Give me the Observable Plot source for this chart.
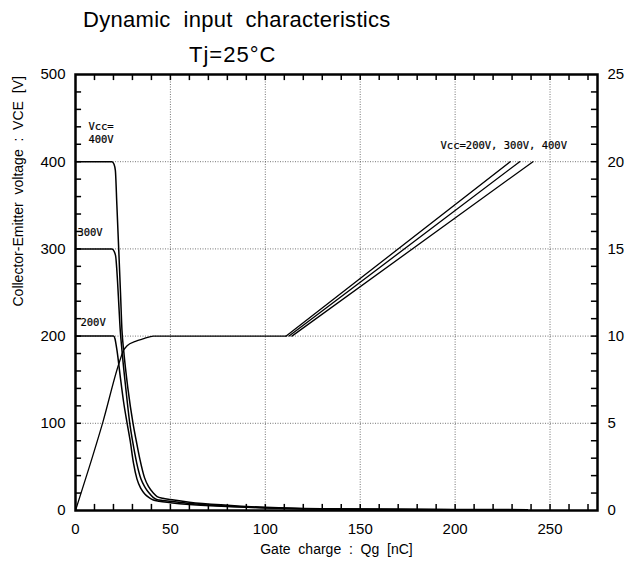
<!DOCTYPE html>
<html>
<head>
<meta charset="utf-8">
<script src="https://cdn.jsdelivr.net/npm/d3@7"></script>
<script src="https://cdn.jsdelivr.net/npm/@observablehq/plot@0.6"></script>
<style>
  body { margin: 0; background: #fff; font-family: "Liberation Sans", Arial, sans-serif; }
  #page { position: relative; width: 628px; height: 566px; overflow: hidden; }
  #head { position: relative; width: 628px; height: 66px; }
  .t { position: absolute; white-space: pre; font-size: 22px; line-height: 22px; color: #000; }
  svg text { white-space: pre; }
</style>
</head>
<body>
<div id="page">
  <div id="head">
    <div class="t" style="left:83px; top:9px; letter-spacing:0.3px;">Dynamic  input  characteristics</div>
    <div class="t" style="left:189px; top:44px; letter-spacing:1px;">Tj=25°C</div>
  </div>
  <div id="chart"></div>
</div>
<script>
// ---- data (Qg in nC, VCE in V, VGE in V) ----
const vce200 = [[0,200],[20,200],[20.8,197],[21.4,190],[21.9,183],[23.5,155],[25.3,125],[27.2,100],[28.8,80],[30.5,55],[32.4,36],[34.5,25],[36.5,19],[38.6,15],[41,12],[44,10.5],[50,9],[60,7],[80,4.5],[100,3],[120,2],[150,1.5],[200,1],[238,1]];
const vce300 = [[0,300],[19.2,300],[20.4,297],[21.2,291],[21.8,275],[22.6,245],[23.6,206],[24.5,183],[26.5,140],[28.6,100],[30.2,78],[32.2,55],[34.5,36],[36.8,26],[38.8,20],[40.9,15],[43,12.5],[46,11.5],[50,10.5],[60,8],[80,5],[100,3.2],[120,2.1],[150,1.5],[200,1],[238,1]];
const vce400 = [[0,400],[19.2,400],[20.3,397],[21,390],[21.8,350],[22.8,298],[23.7,250],[24.5,206],[25.4,183],[27.6,140],[30.3,100],[32,80],[34,58],[36.3,38],[38.6,27],[41,20],[43,16],[46,14],[50,12.5],[60,9.5],[80,6],[100,3.6],[120,2.2],[150,1.6],[200,1.1],[238,1]];
const vgeCommon = [[0,0],[7,2.4],[14.5,5.1],[22.8,8.4],[25.4,9.2],[27.2,9.45],[31.6,9.7],[36,9.85],[41,10],[111,10]];
const vgeRise200 = [[111,10],[229,20]];
const vgeRise300 = [[112.5,10],[234,20]];
const vgeRise400 = [[114,10],[241,20]];

const xDomain = [0, 275];
const yDomain = [0, 500];
const xTickLabels = [0, 50, 100, 150, 200, 250];
const yTickLabels = [0, 100, 200, 300, 400, 500];
const vgeTickLabels = [0, 5, 10, 15, 20, 25];
const xMinor = [10,20,30,40,50,60,70,80,90,100,110,120,130,140,150,160,170,180,190,200,210,220,230,240,250,260,270];
const yMinor = [20,40,60,80,100,120,140,160,180,200,220,240,260,280,300,320,340,360,380,400,420,440,460,480];

const noteText = ["Vcc=", "400V", "300V", "200V", "Vcc=200V, 300V, 400V"];
const noteQg   = [6.8, 6.8, 1, 2.6, 192.3];
const noteV    = [440, 425, 319, 216, 419];

const xTitle = "Gate  charge  :  Qg  [nC]";
const yTitle = "Collector-Emitter  voltage  :  VCE  [V]";

// ---- build rows ----
const rows = (pairs, key) => pairs.map(([q, v]) => ({q, v, key}));
const vceRows = [...rows(vce200, "200"), ...rows(vce300, "300"), ...rows(vce400, "400")];
const vgeRows = [...rows(vgeCommon, "c"), ...rows(vgeRise200, "r200"), ...rows(vgeRise300, "r300"), ...rows(vgeRise400, "r400")];
const notes = noteText.map((t, i) => ({t, q: noteQg[i], v: noteV[i]}));

const W = 628, H = 500, mL = 75, mR = 31, mT = 8, mB = 56;
const vScale = 20;           // 500 V on the left axis == 25 V on the right axis
const tickLenY = 7;          // inward tick length (~6 px) in VCE units
const tickLenX = 3.2;        // inward tick length (~6 px) in Qg units
const tickInk = {stroke: "#000", strokeWidth: 1.5};

const plot = Plot.plot({
  width: W, height: H,
  marginLeft: mL, marginRight: mR, marginTop: mT, marginBottom: mB,
  x: {domain: xDomain, axis: null},
  y: {domain: yDomain, axis: null},
  style: {fontFamily: "'Liberation Sans', Arial, sans-serif", fontSize: "15px", color: "#000", background: "#fff"},
  marks: [
    Plot.gridX({ticks: xTickLabels.slice(1), stroke: "#333", strokeOpacity: 0.85, strokeWidth: 0.8, strokeDasharray: "1,1.5"}),
    Plot.gridY({ticks: yTickLabels.slice(1, -1), stroke: "#333", strokeOpacity: 0.85, strokeWidth: 0.8, strokeDasharray: "1,1.5"}),
    Plot.ruleX(xMinor, {x: d => d, y1: yDomain[0], y2: yDomain[0] + tickLenY, ...tickInk}),
    Plot.ruleX(xMinor, {x: d => d, y1: yDomain[1] - tickLenY, y2: yDomain[1], ...tickInk}),
    Plot.ruleY(yMinor, {y: d => d, x1: xDomain[0], x2: xDomain[0] + tickLenX, ...tickInk}),
    Plot.ruleY(yMinor, {y: d => d, x1: xDomain[1] - tickLenX, x2: xDomain[1], ...tickInk}),
    Plot.line(vceRows, {x: "q", y: "v", z: "key", stroke: "#000", strokeWidth: 1.5, curve: "monotone-x"}),
    Plot.line(vgeRows, {x: "q", y: d => d.v * vScale, z: "key", stroke: "#000", strokeWidth: 1.3, curve: "monotone-x"}),
    Plot.frame({stroke: "#000", strokeWidth: 2.5}),
    Plot.axisX({ticks: xTickLabels, tickSize: 0, tickPadding: 13, label: null, fontSize: 15}),
    Plot.axisY({anchor: "left", ticks: yTickLabels, tickSize: 0, tickPadding: 10, label: null, fontSize: 15}),
    Plot.axisY({anchor: "right", ticks: vgeTickLabels.map(v => v * vScale), tickFormat: d => d / vScale, tickSize: 0, tickPadding: 10, label: null, fontSize: 15}),
    Plot.text(notes, {x: "q", y: "v", text: "t", textAnchor: "start", fontFamily: "'DejaVu Sans Mono', monospace", fontSize: 10.5, fill: "#000", stroke: "#000", strokeWidth: 0.2}),
    Plot.text([xTitle], {text: d => d, frameAnchor: "bottom", dy: 43, fontSize: 14, ariaLabel: "xtitle"}),
    Plot.text([yTitle], {text: d => d, frameAnchor: "left", dx: -57, dy: 14, rotate: -90, fontSize: 14, ariaLabel: "ytitle"})
  ]
});

document.getElementById("chart").appendChild(plot);
d3.select(plot).selectAll("g[aria-label='xtitle'] text").attr("textLength", 178).attr("lengthAdjust", "spacingAndGlyphs");
d3.select(plot).selectAll("g[aria-label='ytitle'] text").attr("textLength", 227).attr("lengthAdjust", "spacingAndGlyphs");
</script>
</body>
</html>
